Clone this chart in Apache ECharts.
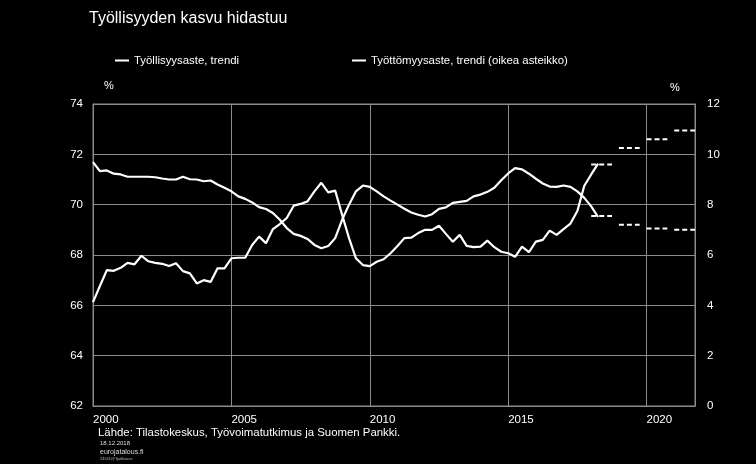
<!DOCTYPE html>
<html>
<head>
<meta charset="utf-8">
<script src="https://cdn.jsdelivr.net/npm/echarts@6/dist/echarts.min.js"></script>
<style>
  html, body { margin: 0; padding: 0; background: #000; }
  #chart { width: 756px; height: 464px; }
</style>
</head>
<body>
<div id="chart"></div>
<script>
// Quarterly trend data, 2000Q1 .. 2018Q2
const startYear = 2000;
const employmentRate = [
  66.13, 66.77, 67.40, 67.37, 67.49, 67.69, 67.63, 67.97, 67.75, 67.69,
  67.65, 67.56, 67.67, 67.36, 67.27, 66.87, 67.00, 66.93, 67.47, 67.47,
  67.87, 67.89, 67.89, 68.40, 68.73, 68.47, 69.03, 69.23, 69.47, 69.96,
  70.03, 70.13, 70.53, 70.87, 70.49, 70.56, 69.60, 68.67, 67.87, 67.60,
  67.56, 67.73, 67.83, 68.07, 68.36, 68.67, 68.69, 68.87, 69.00, 69.00,
  69.16, 68.84, 68.53, 68.80, 68.36, 68.31, 68.33, 68.57, 68.31, 68.13,
  68.07, 67.93, 68.33, 68.11, 68.53, 68.60, 68.97, 68.80, 69.03, 69.25,
  69.75, 70.75, 71.20, 71.63
];
const unemploymentRate = [
  9.69, 9.33, 9.36, 9.23, 9.20, 9.11, 9.11, 9.11, 9.11, 9.09,
  9.04, 9.00, 9.00, 9.11, 9.01, 9.00, 8.93, 8.96, 8.80, 8.67,
  8.53, 8.33, 8.23, 8.09, 7.90, 7.83, 7.67, 7.40, 7.07, 6.84,
  6.76, 6.64, 6.40, 6.27, 6.36, 6.67, 7.40, 8.00, 8.53, 8.76,
  8.71, 8.53, 8.33, 8.16, 8.00, 7.84, 7.69, 7.60, 7.53, 7.62,
  7.83, 7.89, 8.07, 8.11, 8.15, 8.33, 8.40, 8.51, 8.67, 8.97,
  9.24, 9.45, 9.40, 9.23, 9.03, 8.84, 8.72, 8.71, 8.76, 8.71,
  8.53, 8.27, 7.93, 7.51
];
// Annual forecasts (dashed)
const forecastYears = [2018, 2019, 2020, 2021];
const forecastEmployment = [71.6, 72.25, 72.6, 72.95];
const forecastUnemployment = [7.55, 7.2, 7.05, 7.0];
const xTickLabels = [2000, 2005, 2010, 2015, 2020];
const leftTicks = [62, 64, 66, 68, 70, 72, 74];
const rightTicks = [0, 2, 4, 6, 8, 10, 12];

const seriesNames = ['Työllisyysaste, trendi', 'Työttömyysaste, trendi (oikea asteikko)'];

const toPairs = arr => arr.map((v, i) => [startYear + i / 4, v]);
const forecastPairs = vals => {
  const out = [];
  forecastYears.forEach((y, i) => {
    out.push([y, vals[i]]);
    out.push([y + 0.75, vals[i]]);
    out.push([y + 0.875, '-']);
  });
  return out;
};

const GRID = '#8c8c8c';
const FONT = 'Liberation Sans, Arial, sans-serif';

const chart = echarts.init(document.getElementById('chart'));
chart.setOption({
  backgroundColor: '#000',
  animation: false,
  textStyle: { fontFamily: FONT },
  title: {
    text: 'Työllisyyden kasvu hidastuu',
    left: 89, top: 11, padding: 0,
    textStyle: { color: '#fff', fontSize: 16, fontWeight: 'normal', fontFamily: FONT }
  },
  legend: [
    {
      data: [seriesNames[0]], left: 115, top: 55, icon: 'rect',
      itemWidth: 14, itemHeight: 2, padding: 0,
      textStyle: { color: '#fff', fontSize: 11.4, fontFamily: FONT }
    },
    {
      data: [seriesNames[1]], left: 352, top: 55, icon: 'rect',
      itemWidth: 14, itemHeight: 2, padding: 0,
      textStyle: { color: '#fff', fontSize: 11.4, fontFamily: FONT }
    }
  ],
  graphic: [
    { type: 'text', left: 104, top: 80, style: { text: '%', fill: '#fff', font: '11px ' + FONT } },
    { type: 'text', left: 670, top: 82, style: { text: '%', fill: '#fff', font: '11px ' + FONT } },
    { type: 'text', left: 98, top: 427, style: { text: 'Lähde: Tilastokeskus, Työvoimatutkimus ja Suomen Pankki.', fill: '#fff', font: '11.4px ' + FONT } },
    { type: 'text', left: 100, top: 440, style: { text: '18.12.2018', fill: '#ddd', font: '6px ' + FONT } },
    { type: 'text', left: 100, top: 449, style: { text: 'eurojatalous.fi', fill: '#ddd', font: '7px ' + FONT } },
    { type: 'text', left: 100, top: 457, style: { text: '24511@Tyollisuus', fill: '#bbb', font: '4px ' + FONT } }
  ],
  grid: {
    left: 93, right: 61, top: 104, bottom: 58,
    show: true, borderColor: GRID, borderWidth: 1, backgroundColor: 'transparent'
  },
  xAxis: {
    type: 'value', min: 2000, max: 2021.75, interval: 5,
    axisLine: { show: true, lineStyle: { color: GRID } },
    axisTick: { show: false },
    splitLine: { show: true, lineStyle: { color: GRID, width: 1 } },
    axisLabel: {
      color: '#fff', fontSize: 11.5, align: 'left', margin: 8, fontFamily: FONT,
      formatter: v => (xTickLabels.indexOf(v) >= 0 ? String(v) : '')
    }
  },
  yAxis: [
    {
      type: 'value', min: leftTicks[0], max: leftTicks[leftTicks.length - 1], interval: 2,
      axisLine: { show: true, lineStyle: { color: GRID } },
      axisTick: { show: false },
      splitLine: { show: true, lineStyle: { color: GRID, width: 1 } },
      axisLabel: { color: '#fff', fontSize: 11.5, margin: 10, fontFamily: FONT }
    },
    {
      type: 'value', min: rightTicks[0], max: rightTicks[rightTicks.length - 1], interval: 2,
      position: 'right',
      axisLine: { show: true, lineStyle: { color: GRID } },
      axisTick: { show: false },
      splitLine: { show: false },
      axisLabel: { color: '#fff', fontSize: 11.5, margin: 12, fontFamily: FONT }
    }
  ],
  series: [
    {
      name: seriesNames[0], type: 'line', yAxisIndex: 0, data: toPairs(employmentRate),
      showSymbol: false, symbol: 'none', color: '#fff',
      lineStyle: { color: '#fff', width: 2.2 }
    },
    {
      name: seriesNames[1], type: 'line', yAxisIndex: 1, data: toPairs(unemploymentRate),
      showSymbol: false, symbol: 'none', color: '#fff',
      lineStyle: { color: '#fff', width: 2.2 }
    },
    {
      name: 'Työllisyysaste, ennuste', type: 'line', yAxisIndex: 0, data: forecastPairs(forecastEmployment),
      showSymbol: false, symbol: 'none', connectNulls: false, color: '#fff',
      lineStyle: { color: '#fff', width: 2, type: [5, 3] }
    },
    {
      name: 'Työttömyysaste, ennuste', type: 'line', yAxisIndex: 1, data: forecastPairs(forecastUnemployment),
      showSymbol: false, symbol: 'none', connectNulls: false, color: '#fff',
      lineStyle: { color: '#fff', width: 2, type: [5, 3] }
    }
  ]
});
</script>
</body>
</html>
